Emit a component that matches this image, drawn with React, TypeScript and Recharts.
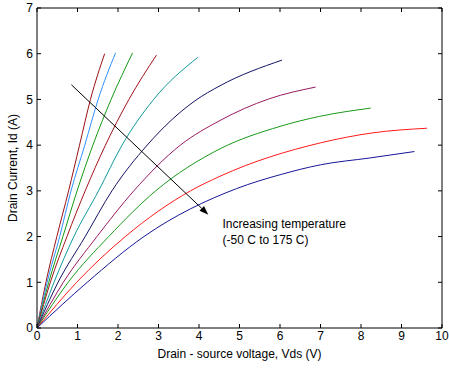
import React from "react";
import { Line, LineChart, ReferenceDot, ReferenceLine, XAxis, YAxis } from "recharts";

interface Pt {
  x: number;
  y: number;
}

const pts = (rows: number[][]): Pt[] => rows.map(([x, y]) => ({ x, y }));

// Id vs Vds sweeps, one per temperature step (-50 C .. 175 C)
const sweepM50 = pts([[0, 0], [0.22, 1], [0.49, 2], [0.78, 3], [1.05, 4], [1.32, 5], [1.67, 6.0]]);
const sweepM25 = pts([[0, 0], [0.25, 1], [0.56, 2], [0.84, 3], [1.18, 4], [1.51, 5], [1.94, 6.02]]);
const sweep0 = pts([[0, 0], [0.29, 1], [0.64, 2], [0.99, 3], [1.38, 4], [1.83, 5], [2.36, 6.02]]);
const sweep25 = pts([[0, 0], [0.33, 1], [0.74, 2], [1.19, 3], [1.69, 4], [2.27, 5], [2.95, 5.97]]);
const sweep50 = pts([[0, 0], [0.42, 1], [0.91, 2], [1.52, 3], [2.1, 4], [2.88, 5], [3.97, 5.92]]);
const sweep75 = pts([[0, 0], [0.52, 1], [1.19, 2], [1.85, 3], [2.72, 4], [3.9, 4.97], [4.52, 5.3], [6.05, 5.86]]);
const sweep100 = pts([[0, 0], [0.65, 1], [1.48, 2], [2.39, 3], [3.54, 4], [4.52, 4.54], [5.72, 5.01], [6.88, 5.27]]);
const sweep125 = pts([[0, 0], [0.77, 1], [1.77, 2], [2.93, 3], [4.52, 3.92], [6.0, 4.41], [6.98, 4.63], [8.24, 4.81]]);
const sweep150 = pts([[0, 0], [0.98, 1], [2.18, 2], [3.79, 3], [4.52, 3.32], [7.0, 4.05], [8.3, 4.27], [9.63, 4.37]]);
const sweep175 = pts([[0, 0], [1.24, 1], [2.64, 2], [4.93, 3.05], [6.03, 3.36], [7.0, 3.57], [8.22, 3.72], [9.32, 3.86]]);

const sweeps = [
  { name: "-50 C", data: sweepM50, color: "#9a0f14" },
  { name: "-25 C", data: sweepM25, color: "#2f8fff" },
  { name: "0 C", data: sweep0, color: "#159a15" },
  { name: "25 C", data: sweep25, color: "#a0141c" },
  { name: "50 C", data: sweep50, color: "#109a9a" },
  { name: "75 C", data: sweep75, color: "#141466" },
  { name: "100 C", data: sweep100, color: "#9a1a60" },
  { name: "125 C", data: sweep125, color: "#1a9a1a" },
  { name: "150 C", data: sweep150, color: "#ff1a1a" },
  { name: "175 C", data: sweep175, color: "#16169a" },
];

const xTicks = [0, 1, 2, 3, 4, 5, 6, 7, 8, 9, 10];
const yTicks = [0, 1, 2, 3, 4, 5, 6, 7];

const arrowFrom = { x: 0.85, y: 5.32 };
const arrowTo = { x: 4.23, y: 2.48 };
const noteAt = { x: 4.58, y: 2.28 };
const noteLines = ["Increasing temperature", "(-50 C to 175 C)"];

const font = "'Liberation Sans', Arial, sans-serif";
const fs = 12;
const tickStyle = { fill: "#000", fontSize: fs, fontFamily: font };
const noLabel = () => <g />;

function Arrow(props: any) {
  const { x1, y1, x2, y2 } = props;
  const ang = Math.atan2(y2 - y1, x2 - x1);
  const len = 9;
  const half = 3.2;
  const bx = x2 - len * Math.cos(ang);
  const by = y2 - len * Math.sin(ang);
  const px = -Math.sin(ang) * half;
  const py = Math.cos(ang) * half;
  return (
    <g>
      <line x1={x1} y1={y1} x2={bx} y2={by} stroke="#000" strokeWidth={1} />
      <path d={`M${x2},${y2} L${bx + px},${by + py} L${bx - px},${by - py} Z`} fill="#000" />
    </g>
  );
}

function Note(props: any) {
  const { cx, cy } = props;
  return (
    <text x={cx} y={cy} fontSize={fs} fontFamily={font} fill="#000">
      {noteLines.map((t, i) => (
        <tspan key={t} x={cx} dy={i === 0 ? "0.35em" : 16}>
          {t}
        </tspan>
      ))}
    </text>
  );
}

function XTitle(props: any) {
  const { viewBox } = props;
  return (
    <text x={viewBox.x + viewBox.width / 2} y={354} textAnchor="middle" dominantBaseline="central" fontSize={fs} fontFamily={font} fill="#000">
      Drain - source voltage, Vds (V)
    </text>
  );
}

function YTitle(props: any) {
  const { viewBox } = props;
  const cy = viewBox.y + viewBox.height / 2;
  return (
    <text x={12.7} y={cy} transform={`rotate(-90 12.7 ${cy})`} textAnchor="middle" dominantBaseline="central" fontSize={fs} fontFamily={font} fill="#000">
      Drain Current, Id (A)
    </text>
  );
}

export default function App() {
  return (
    <div style={{ position: "absolute", left: 0, top: 0, width: 449, height: 371, background: "#fff" }}>
      <LineChart width={449} height={371} margin={{ top: 7, right: 6, bottom: 0, left: 0 }}>
        <XAxis
          type="number"
          dataKey="x"
          domain={[0, 10]}
          ticks={xTicks}
          allowDataOverflow
          height={43}
          tick={tickStyle}
          tickSize={-4}
          tickMargin={7}
          axisLine={{ stroke: "#000" }}
          tickLine={{ stroke: "#000" }}
          label={<XTitle />}
        />
        <XAxis
          xAxisId="top"
          orientation="top"
          type="number"
          dataKey="x"
          domain={[0, 10]}
          ticks={xTicks}
          allowDataOverflow
          height={1}
          tick={noLabel}
          tickSize={-4}
          axisLine={{ stroke: "#000" }}
          tickLine={{ stroke: "#000" }}
        />
        <YAxis
          type="number"
          domain={[0, 7]}
          ticks={yTicks}
          allowDataOverflow
          width={37}
          tick={tickStyle}
          tickSize={-4}
          tickMargin={8}
          axisLine={{ stroke: "#000" }}
          tickLine={{ stroke: "#000" }}
          label={<YTitle />}
        />
        <YAxis
          yAxisId="right"
          orientation="right"
          type="number"
          domain={[0, 7]}
          ticks={yTicks}
          allowDataOverflow
          width={1}
          tick={noLabel}
          tickSize={-4}
          axisLine={{ stroke: "#000" }}
          tickLine={{ stroke: "#000" }}
        />
        {/* invisible series so the box axes get a scale */}
        <Line
          xAxisId="top"
          yAxisId="right"
          data={sweepM50}
          dataKey="y"
          stroke="none"
          dot={false}
          activeDot={false}
          legendType="none"
          isAnimationActive={false}
        />
        {sweeps.map((s) => (
          <Line
            key={s.name}
            name={s.name}
            data={s.data}
            dataKey="y"
            type="monotone"
            stroke={s.color}
            strokeWidth={1}
            dot={false}
            activeDot={false}
            isAnimationActive={false}
          />
        ))}
        <ReferenceLine segment={[arrowFrom, arrowTo]} shape={<Arrow />} />
        <ReferenceDot x={noteAt.x} y={noteAt.y} r={0} shape={<Note />} />
      </LineChart>
    </div>
  );
}
